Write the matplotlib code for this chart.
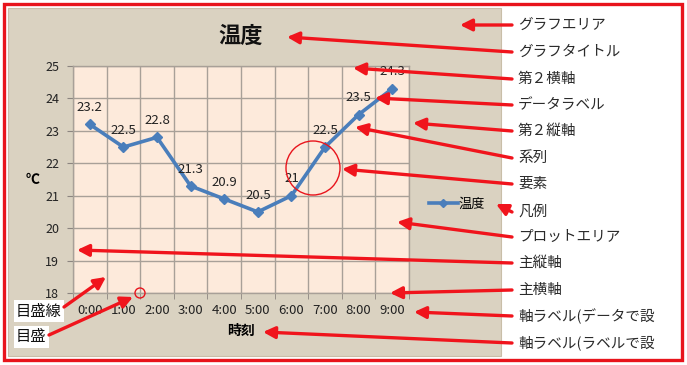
import matplotlib
matplotlib.use("Agg")
import matplotlib.pyplot as plt
from matplotlib.patches import Rectangle, Circle
from matplotlib.ticker import FixedLocator

plt.rcParams['font.family'] = ['Noto Sans CJK JP', 'DejaVu Sans']

# データ
times = ["0:00", "1:00", "2:00", "3:00", "4:00", "5:00", "6:00", "7:00", "8:00", "9:00"]
temps = [23.2, 22.5, 22.8, 21.3, 20.9, 20.5, 21.0, 22.5, 23.5, 24.3]
y_ticks = [18, 19, 20, 21, 22, 23, 24, 25]

# 注釈ラベル (テキスト, テキストのy, 矢印の先 x, y)
part_names = ["グラフエリア", "グラフタイトル", "第２横軸", "データラベル", "第２縦軸", "系列", "要素",
              "凡例", "プロットエリア", "主縦軸", "主横軸", "軸ラベル(データで設", "軸ラベル(ラベルで設"]
part_y = [25, 52, 79, 105, 131, 158, 184, 212, 237, 263, 290, 316, 343]
target_x = [460, 287, 353, 375, 413, 355, 342, 496, 397, 77, 390, 414, 263]
target_y = [25, 37, 68, 98, 123, 127, 169, 204, 222, 250, 293, 312, 332]

W, H = 687, 365
fig = plt.figure(figsize=(W / 100, H / 100), dpi=100)
fig.patch.set_facecolor("white")

def px_box(x0, y0, x1, y1):
    return [x0 / W, 1 - y1 / H, (x1 - x0) / W, (y1 - y0) / H]

# 背景 (グラフエリア)
bg = fig.add_axes([0, 0, 1, 1])
bg.set_xlim(0, W)
bg.set_ylim(H, 0)
bg.axis("off")
bg.add_patch(Rectangle((8, 8), 493, 348, facecolor="#DAD2C1", edgecolor="#C9BEA8", lw=0.8))

# プロットエリア
ax = fig.add_axes(px_box(73, 66, 409, 293))
ax.set_facecolor("#FDEADB")
x = list(range(len(times)))
ax.plot(x, temps, color="#4A7EBB", lw=2.6, marker="D", markersize=5, label="温度", zorder=3)
for xi, v in zip(x, temps):
    ax.annotate(f"{v:g}", (xi, v), xytext=(0, 7.5), textcoords="offset points",
                ha="center", va="bottom", fontsize=9.5, color="#222222", zorder=4)

ax.set_xlim(-0.5, len(times) - 0.5)
ax.set_ylim(18, 25)
ax.set_xticks(x)
ax.set_xticklabels(times)
ax.xaxis.set_minor_locator(FixedLocator([i - 0.5 for i in range(len(times) + 1)]))
ax.set_yticks(y_ticks)
ax.tick_params(axis="x", which="major", length=0, pad=8, labelsize=9.5, labelcolor="#222222")
ax.tick_params(axis="x", which="minor", length=4, color="#8C8580", direction="out")
ax.tick_params(axis="y", length=4, color="#8C8580", pad=6, labelsize=9, labelcolor="#222222")
ax.grid(True, axis="y", which="major", color="#A8A098", lw=1)
ax.grid(True, axis="x", which="minor", color="#A8A098", lw=1)
ax.grid(False, axis="x", which="major")
for s in ax.spines.values():
    s.set_color("#A8A098")
    s.set_linewidth(1)
ax.set_axisbelow(True)

ax.set_title("温度", fontsize=16, fontweight="bold", pad=17, color="#111111")
ax.set_xlabel("時刻", fontsize=10, fontweight="bold", labelpad=5)
ax.set_ylabel("℃", fontsize=10, fontweight="bold", rotation=0, va="center")
ax.yaxis.set_label_coords(-0.12, 0.5)

ax.legend(loc="center", bbox_to_anchor=(457 / W, 1 - 204 / H), bbox_transform=fig.transFigure,
          frameon=False, fontsize=9.5, handlelength=2.2, handletextpad=0.1, markerscale=0.9)

# 注釈
ov = fig.add_axes([0, 0, 1, 1])
ov.set_xlim(0, W)
ov.set_ylim(H, 0)
ov.axis("off")
ov.patch.set_alpha(0)
ov.add_patch(Rectangle((4, 4), 678, 356, facecolor="none", edgecolor="#E8141C", lw=2.4))

arrow = dict(arrowstyle="-|>,head_length=0.7,head_width=0.35", color="#F0141C", lw=2.4,
             shrinkA=0, shrinkB=0)
for name, ly, tx, ty in zip(part_names, part_y, target_x, target_y):
    ov.text(518, ly, name, fontsize=10.5, ha="left", va="center", color="#2A2A2A")
    ov.annotate("", xy=(tx, ty), xytext=(512, ly), arrowprops=arrow)

ov.text(16, 311, "目盛線", fontsize=11, ha="left", va="center", color="#111111",
        bbox=dict(facecolor="white", edgecolor="none", pad=1.5))
ov.text(16, 337, "目盛", fontsize=11, ha="left", va="center", color="#111111",
        bbox=dict(facecolor="white", edgecolor="none", pad=1.5))
ov.annotate("", xy=(106, 277), xytext=(64, 307), arrowprops=arrow)
ov.annotate("", xy=(133, 297), xytext=(49, 335), arrowprops=arrow)

ov.add_patch(Circle((313, 168), 27, facecolor="none", edgecolor="#E8141C", lw=1))
ov.add_patch(Circle((140, 293), 5, facecolor="none", edgecolor="#E8141C", lw=1))

fig.savefig("out.png", dpi=100)
